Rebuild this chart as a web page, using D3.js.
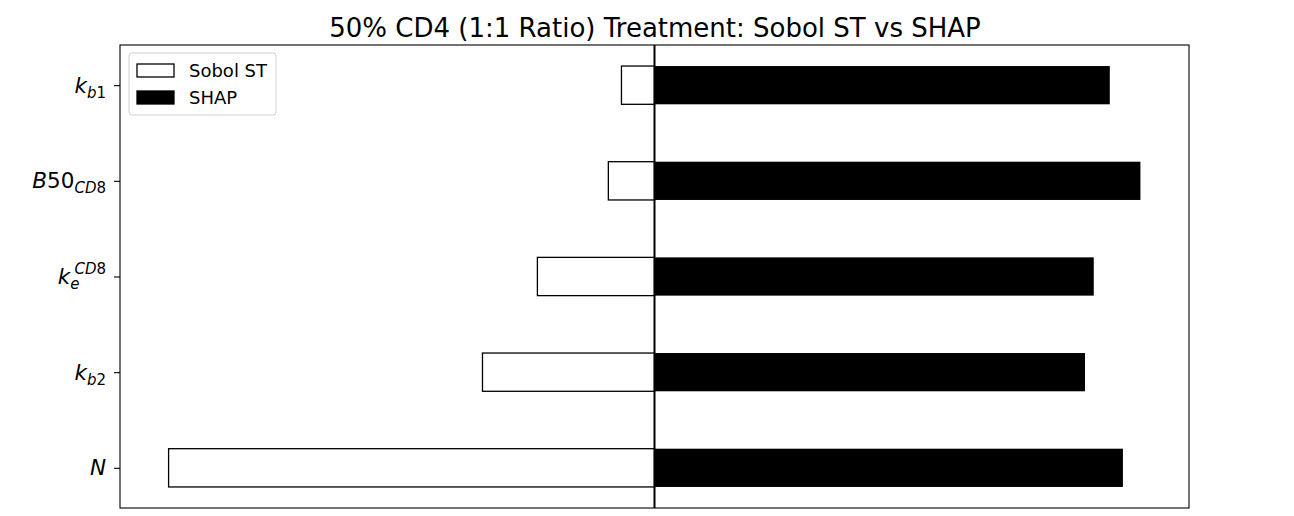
<!DOCTYPE html>
<html>
<head>
<style>
body { margin: 0; background: #fff; font-family: 'DejaVu Sans', sans-serif; }
</style>
</head>
<body>
<svg width="1294" height="516"></svg>
<script src="https://cdn.jsdelivr.net/npm/d3@7/dist/d3.min.js"></script>
<script>

// data, top to bottom
var params = ["kb1", "B50CD8", "keCD8", "kb2", "N"];
var sobolST = [0.068, 0.095, 0.241, 0.354, 1.0];
var shap = [0.937, 1.0, 0.904, 0.886, 0.964];

// tick label pieces: [text, italic, shift]  shift: 0 normal, -1 sub, 1 sup
var tickLabels = [
  [["k", true, 0], ["b", true, -1], ["1", false, -1]],
  [["B", true, 0], ["50", false, 0], ["CD", true, -1], ["8", false, -1]],
  [["k", true, 0], ["e", true, -1], ["CD", true, 1], ["8", false, 1]],
  [["k", true, 0], ["b", true, -1], ["2", false, -1]],
  [["N", true, 0]]
];

var svg = d3.select("svg");
var m = { left: 120, right: 1189, top: 45, bottom: 508 };

var x = d3.scaleLinear().domain([-1.1, 1.1]).range([m.left, m.right]);
var y = d3.scaleLinear().domain([-0.42, 4.42]).range([m.top, m.bottom]);
var barH = y(0.4) - y(0);

// title
svg.append("text")
    .attr("x", (m.left + m.right) / 2 + 0.5)
    .attr("y", 37)
    .attr("text-anchor", "middle")
    .style("font-size", "26px")
    .attr("fill", "#000")
    .text("50% CD4 (1:1 Ratio) Treatment: Sobol ST vs SHAP");

// sobol bars (to the left)
svg.append("g").selectAll("rect")
    .data(sobolST)
  .enter().append("rect")
    .attr("x", function(d) { return x(-d); })
    .attr("y", function(d, i) { return y(i) - barH / 2; })
    .attr("width", function(d) { return x(0) - x(-d); })
    .attr("height", barH)
    .attr("fill", "white")
    .attr("stroke", "black")
    .attr("stroke-width", 1.3);

// shap bars (to the right)
svg.append("g").selectAll("rect")
    .data(shap)
  .enter().append("rect")
    .attr("x", x(0))
    .attr("y", function(d, i) { return y(i) - barH / 2; })
    .attr("width", function(d) { return x(d) - x(0); })
    .attr("height", barH)
    .attr("fill", "black");

// zero line
svg.append("line")
    .attr("x1", x(0)).attr("x2", x(0))
    .attr("y1", m.top).attr("y2", m.bottom)
    .attr("stroke", "black")
    .attr("stroke-width", 2);

// frame
svg.append("rect")
    .attr("x", m.left).attr("y", m.top)
    .attr("width", m.right - m.left).attr("height", m.bottom - m.top)
    .attr("fill", "none")
    .attr("stroke", "black")
    .attr("stroke-width", 1.1);

// y axis ticks with math labels
var yAxis = d3.axisLeft(y)
    .tickValues(d3.range(params.length))
    .tickSize(6)
    .tickFormat("");
var gy = svg.append("g")
    .attr("transform", "translate(" + m.left + ",0)")
    .call(yAxis);
gy.select(".domain").remove();
gy.selectAll(".tick line").attr("stroke", "black").attr("stroke-width", 1.1);

gy.selectAll(".tick").each(function(d, i) {
  var t = d3.select(this).select("text")
      .attr("x", -14)
      .attr("dy", null)
      .attr("y", 7)
      .attr("text-anchor", "end")
      .attr("fill", "black")
      .style("font-size", "21.5px")
      .style("font-family", "'DejaVu Sans', sans-serif");
  var prev = 0;
  tickLabels[i].forEach(function(p, k) {
    var shift = p[2];
    var ts = t.append("tspan").text(p[0])
        .style("font-style", p[1] ? "italic" : "normal");
    var off = shift === -1 ? 5 : (shift === 1 ? -10 : 0);
    if (off !== prev) { ts.attr("dy", off - prev); prev = off; }
    if (shift !== 0) ts.style("font-size", "15px");
  });
  // superscript sits over the subscript for k_e^CD8
  if (i === 2) {
    var spans = t.selectAll("tspan").nodes();
    d3.select(spans[2]).attr("dx", -5);
  }
});

// legend
var lg = svg.append("g").attr("transform", "translate(129,53)");
lg.append("rect")
    .attr("width", 147).attr("height", 62)
    .attr("rx", 3)
    .attr("fill", "white")
    .attr("fill-opacity", 0.8)
    .attr("stroke", "#d0d0d0");
var legendItems = [["Sobol ST", "white"], ["SHAP", "black"]];
legendItems.forEach(function(it, i) {
  lg.append("rect")
      .attr("x", 8).attr("y", 11 + i * 27)
      .attr("width", 37).attr("height", 13)
      .attr("fill", it[1])
      .attr("stroke", "black")
      .attr("stroke-width", 1.3);
  lg.append("text")
      .attr("x", 60).attr("y", 24 + i * 27)
      .style("font-size", "18px")
      .attr("fill", "black")
      .text(it[0]);
});

</script>
</body>
</html>
